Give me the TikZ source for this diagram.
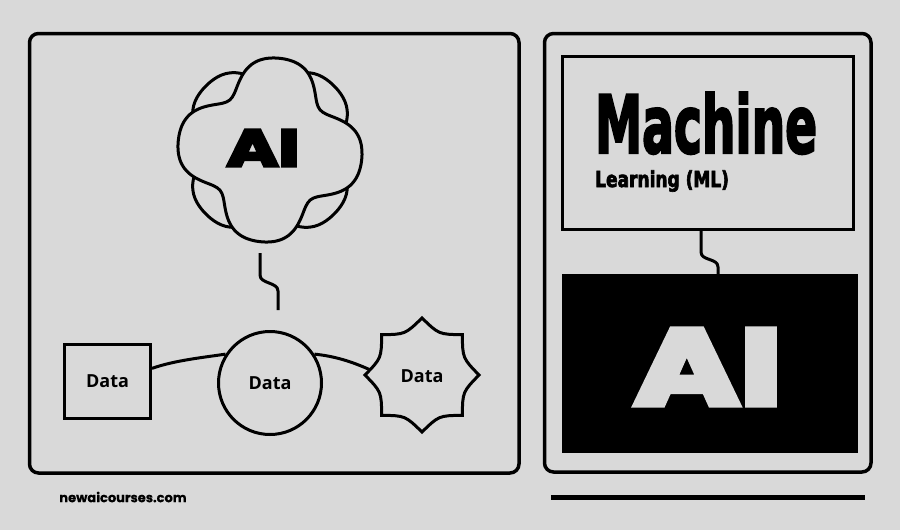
\documentclass[tikz,border=0pt]{standalone}
\usepackage{graphicx}
\usepackage{fontspec}
\setmainfont{Open Sans}
\newfontfamily\heavy{Poppins}[BoldFeatures={FakeBold=5}]
\newfontfamily\heavyurl{Poppins}[BoldFeatures={FakeBold=0.5}]
\newfontfamily\cond{DejaVu Sans Condensed}[BoldFeatures={FakeBold=3}]
\usetikzlibrary{calc}
\definecolor{bg}{RGB}{217,217,217}
\begin{document}
\begin{tikzpicture}[x=1pt,y=-1pt,
  panel/.style={draw, line width=3.5pt, rounded corners=9pt},
  outline/.style={draw, line width=3pt, fill=bg},
  link/.style={line width=3pt},
  datatxt/.style={font=\bfseries\fontsize{18}{20}\selectfont}]
% background
\fill[bg] (0,0) rectangle (900,530);
\useasboundingbox (0,0) rectangle (900,530);
% panels
\draw[panel] (29.5,33.5) rectangle (519,473);
\draw[panel] (544.5,33.5) rectangle (871,472);
% cloud: back flower then front flower
\draw[outline] plot[domain=0:357,samples=120,smooth] ({270+(81+12*(cos(4*(\x-45))-0.2*cos(8*(\x-45))))*cos(\x)},{150+(81+12*(cos(4*(\x-45))-0.2*cos(8*(\x-45))))*sin(\x)}) -- cycle;
\draw[outline] plot[domain=0:357,samples=120,smooth] ({270+(81+14*(cos(4*(\x-6))-0.2*cos(8*(\x-6))))*cos(\x)},{150+(81+14*(cos(4*(\x-6))-0.2*cos(8*(\x-6))))*sin(\x)}) -- cycle;
\node (ai1) at (263,148) {\heavy\bfseries\fontsize{52}{60}\selectfont\scalebox{1.36}[1]{AI}};
% squiggle from cloud
\coordinate (cb) at (260,253);
\coordinate (ce) at (278,310);
\draw[link] (cb) -- ++(0,22) .. controls +(0,9) and +(0,-9) .. ++(18,16) -- (ce);
% data nodes
\node[outline, minimum width=86pt, minimum height=74pt, inner sep=0pt, datatxt] (sq) at (107.5,381.5) {Data};
\node[outline, circle, minimum size=103pt, inner sep=0pt, datatxt] (ci) at (270,383) {Data};
\coordinate (stc) at (422,375);
\draw[outline] ($(stc)+(-90:57)$)
  \foreach \k in {0,...,7} { .. controls ($(stc)+(-67.5+45*\k:44)$) .. ($(stc)+(-45+45*\k:57)$) } -- cycle;
\node[datatxt] (st) at (422,376) {Data};
\coordinate (stw) at ($(stc)+(186:53)$);
\coordinate (sqe) at ($(sq.north east)!0.33!(sq.south east)$);
\draw[link] (sqe) .. controls +(22,-8) and +(-20,3) .. (ci.147);
\draw[link] (ci.33) .. controls +(20,2) and +(-18,-8) .. (stw);
% right panel
\node[draw, line width=3pt, minimum width=291pt, minimum height=173pt, inner sep=0pt] (ml) at (708,143) {};
\node[anchor=base west, inner sep=0pt] (mach) at (595,153) {\cond\bfseries\fontsize{80}{80}\selectfont\scalebox{0.655}[1]{Machine}};
\node[anchor=base west, inner sep=0pt] (lrn) at (595,187) {\cond\bfseries\fontsize{22}{24}\selectfont\scalebox{0.86}[1]{Learning (ML)}};
\coordinate (q1) at (701,231);
\coordinate (q2) at (718,276);
\draw[link] (q1) -- ++(0,21) .. controls +(0,9) and +(0,-9) .. ++(17,15) -- (q2);
\node[fill=black, minimum width=296pt, minimum height=179pt, inner sep=0pt] (bk) at (710,363.5) {};
\node[text=bg] (ai2) at (708,367) {\heavy\bfseries\fontsize{108}{120}\selectfont\scalebox{1.33}[1]{AI}};
% footer
\node[font=\bfseries\fontsize{13}{15}\selectfont] (url) at (123,497) {\heavyurl newaicourses.com};
\coordinate (l1) at (551,497);
\coordinate (l2) at (865,497);
\draw[line width=5pt] (l1) -- (l2);
\end{tikzpicture}
\end{document}
